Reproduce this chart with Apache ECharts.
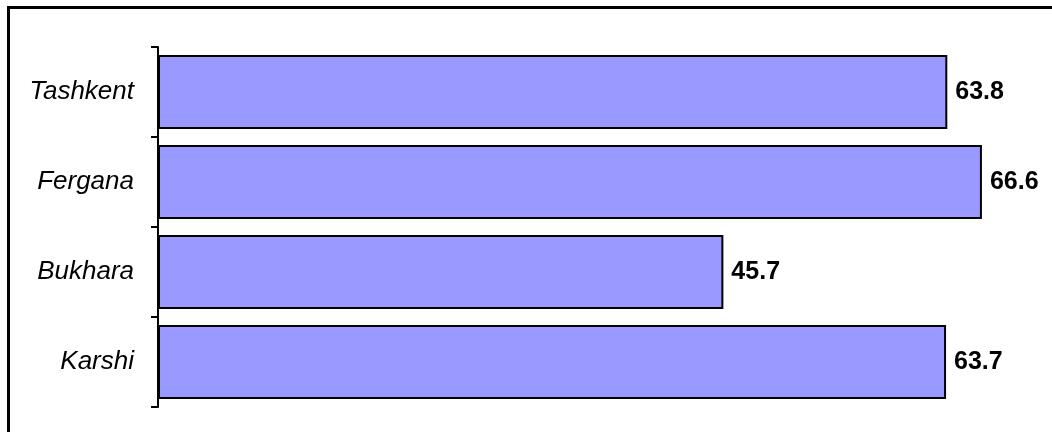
<!DOCTYPE html>
<html>
<head>
<meta charset="utf-8">
<script src="https://cdn.jsdelivr.net/npm/echarts@6/dist/echarts.min.js"></script>
<style>
  html, body { margin: 0; padding: 0; background: #fff; }
  #chart { width: 1052px; height: 432px; }
</style>
</head>
<body>
<div id="chart"></div>
<script>
const cities = ['Tashkent', 'Fergana', 'Bukhara', 'Karshi']
const values = [63.8, 66.6, 45.7, 63.7]

const chart = echarts.init(document.getElementById('chart'))
chart.setOption({
  animation: false,
  graphic: [
    {
      type: 'rect',
      shape: { x: 8.5, y: 7.5, width: 1100, height: 500 },
      style: { fill: 'none', stroke: '#000', lineWidth: 3 },
    },
  ],
  grid: {
    left: 158,
    top: 47,
    width: 866,
    height: 360,
  },
  xAxis: {
    type: 'value',
    min: 0,
    max: 70,
    show: false,
  },
  yAxis: {
    type: 'category',
    data: cities,
    inverse: true,
    axisLine: { lineStyle: { color: '#000', width: 2 } },
    axisTick: { show: true, length: 7, lineStyle: { color: '#000', width: 2 } },
    axisLabel: {
      margin: 24,
      fontFamily: 'Liberation Sans, Arial, sans-serif',
      fontStyle: 'italic',
      fontSize: 26,
      color: '#000',
    },
  },
  series: [
    {
      type: 'bar',
      data: values,
      barCategoryGap: '18%',
      itemStyle: { color: '#9999FF', borderColor: '#000', borderWidth: 2 },
      label: {
        show: true,
        position: 'right',
        distance: 8,
        fontFamily: 'Liberation Sans, Arial, sans-serif',
        fontWeight: 'bold',
        fontSize: 25,
        color: '#000',
        formatter: p => p.value.toFixed(1),
      },
    },
  ],
})
</script>
</body>
</html>
